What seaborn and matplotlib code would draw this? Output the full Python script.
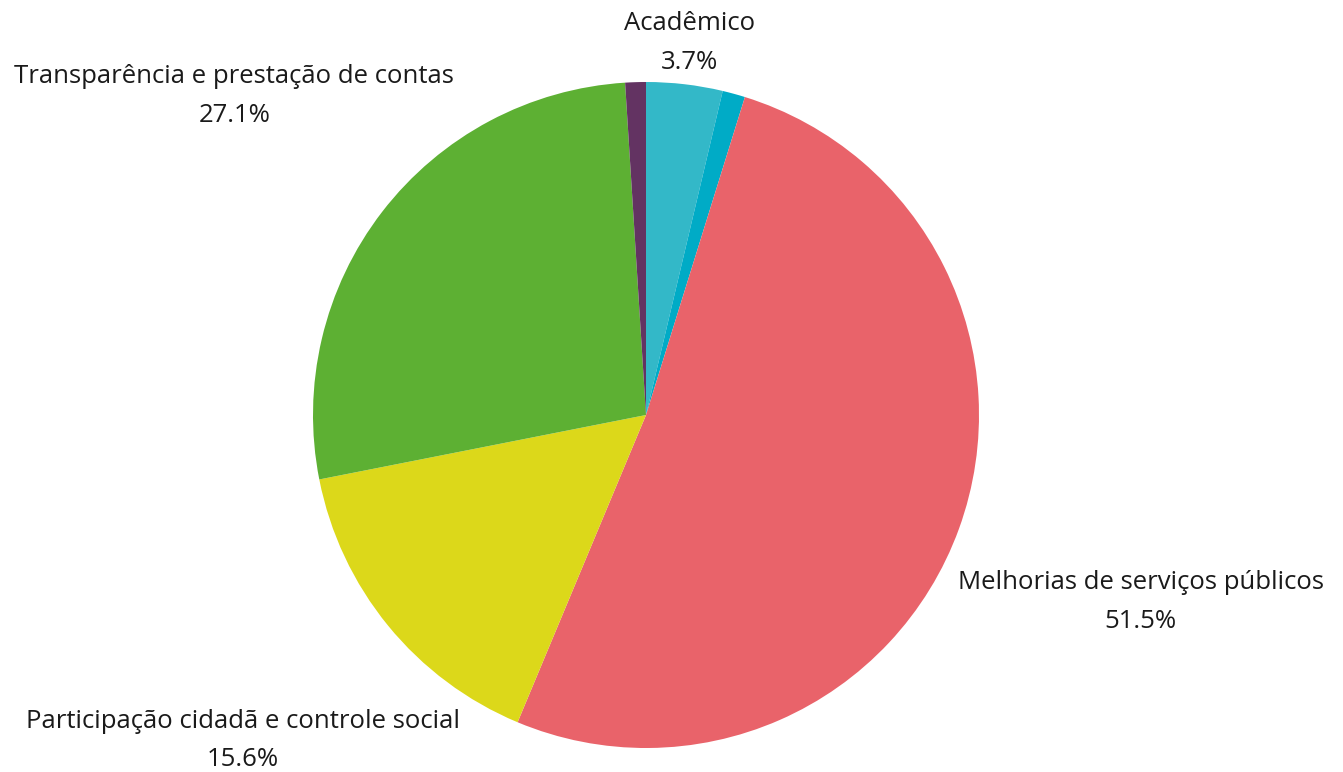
import matplotlib
matplotlib.use('Agg')
import matplotlib.pyplot as plt
import seaborn as sns

sns.set_style('white')
plt.rcParams['font.family'] = ['Open Sans', 'DejaVu Sans']

# Slice data (clockwise from the top)
categories = ['Acadêmico', 'Outros', 'Melhorias de serviços públicos',
              'Participação cidadã e controle social',
              'Transparência e prestação de contas', 'Não classificado']
shares = [3.7, 1.1, 51.5, 15.6, 27.1, 1.0]
colors = ['#33B8C8', '#00ABC6', '#E9636A', '#DCD81A', '#5DB033', '#633362']
show_label = [True, False, True, True, True, False]

# label positions in pie-radius units
label_pos = [(0.13, 1.118), None, (1.485, -0.562), (-1.21, -0.977), (-1.236, 0.958)]

fig = plt.figure(figsize=(13.43, 7.72), dpi=100)
ax = fig.add_axes([0, 0, 1, 1])

ax.pie(shares, colors=colors, startangle=90, counterclock=False,
       wedgeprops={'linewidth': 0})

for i, cat in enumerate(categories):
    if not show_label[i]:
        continue
    x, y = label_pos[i]
    ax.text(x, y, f'{cat}\n{shares[i]:.1f}%', ha='center', va='center',
            fontsize=18.5, color='#1a1a1a', linespacing=1.72)

ax.set_xlim(-646 / 333, (1343 - 646) / 333)
ax.set_ylim((415 - 772) / 333, 415 / 333)
ax.set_aspect('auto')
ax.axis('off')

fig.savefig('out.png', dpi=100, facecolor='white')
